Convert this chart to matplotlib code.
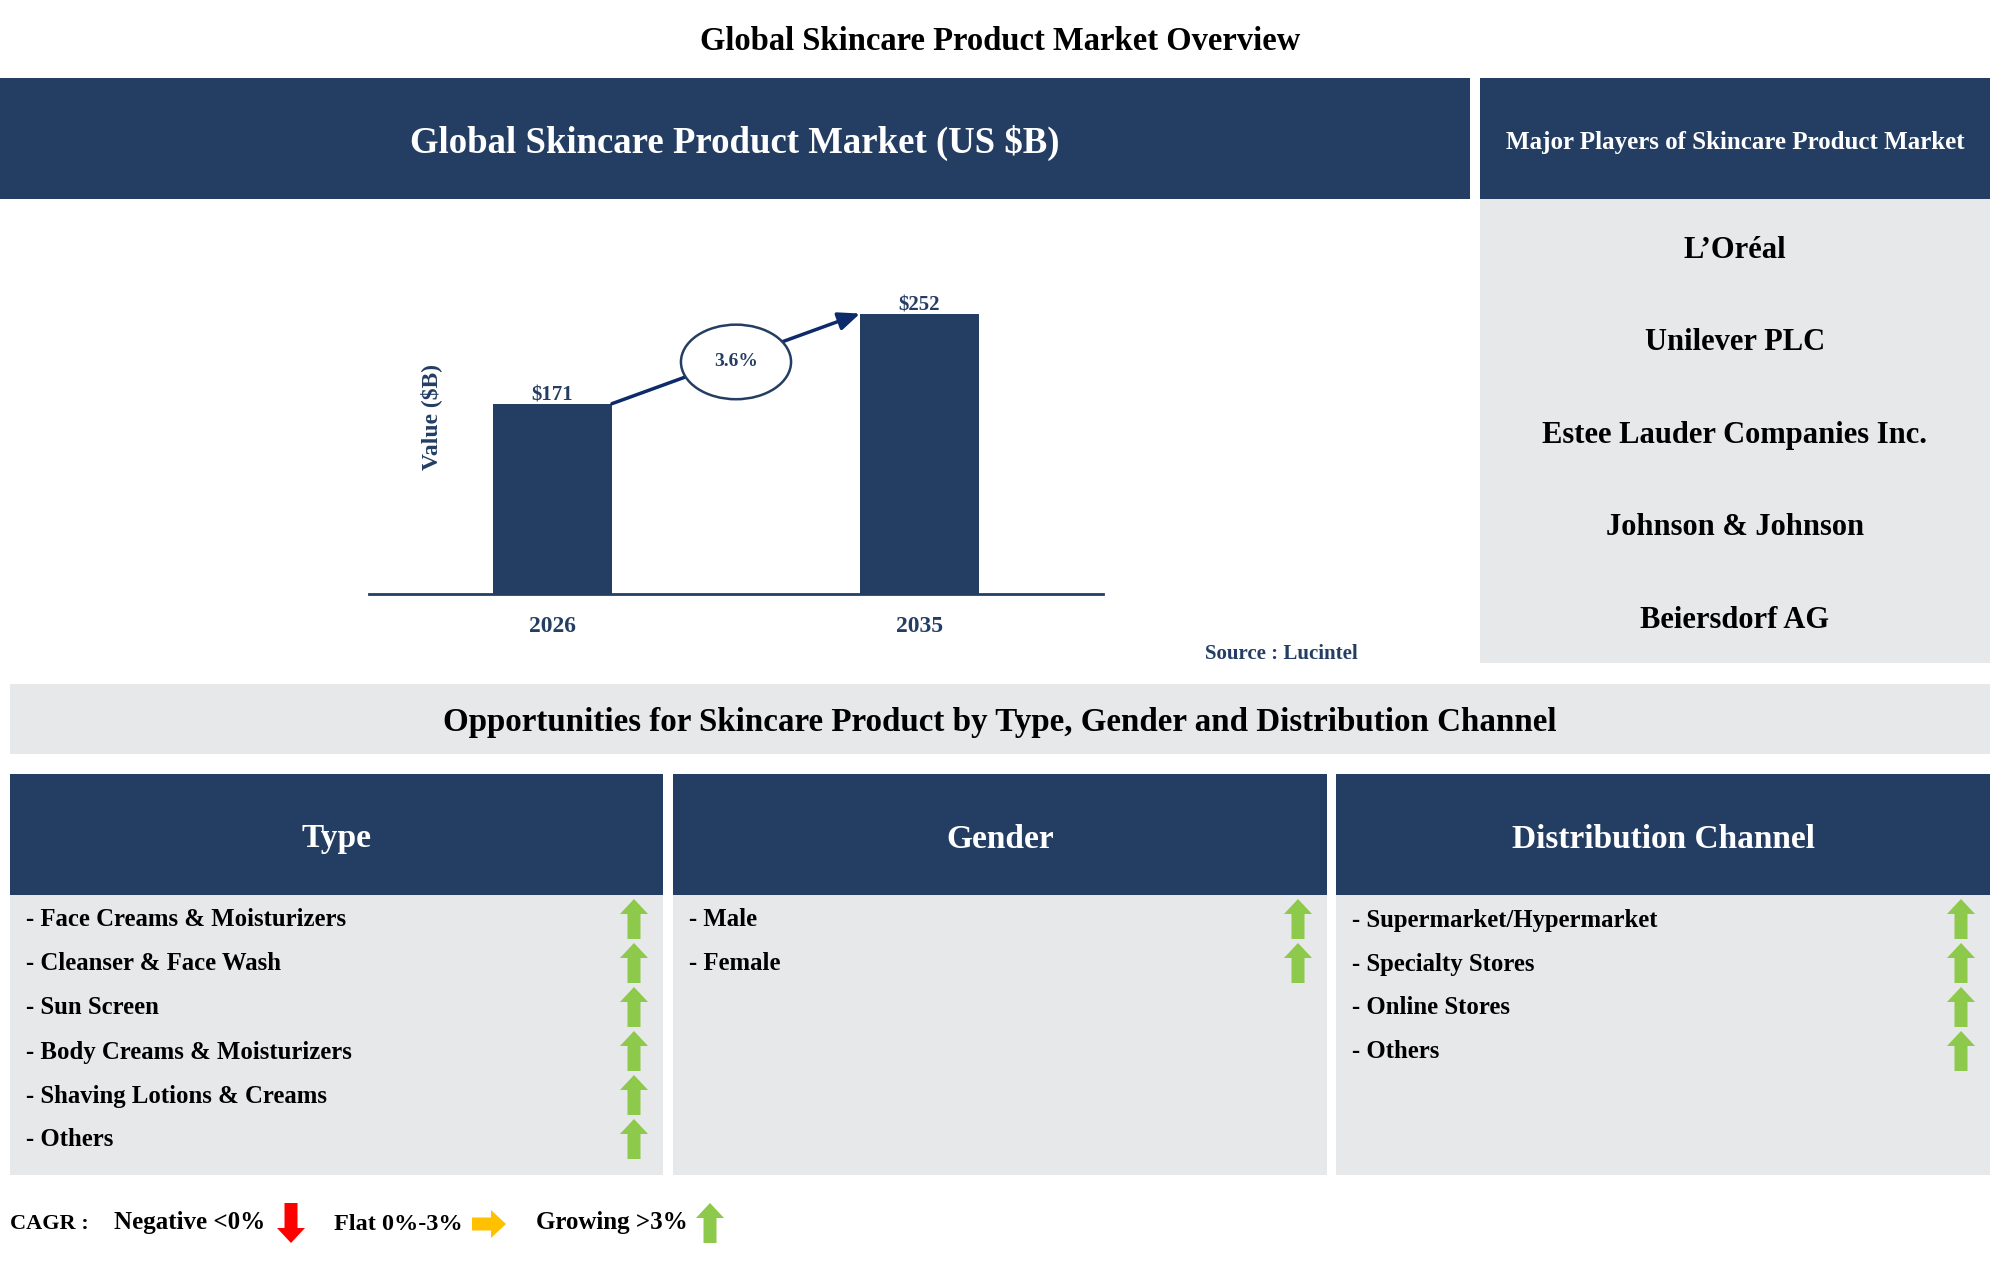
import numpy as np
import matplotlib.pyplot as plt
from matplotlib.patches import Rectangle, Ellipse, Polygon

# Données du graphique
years = ['2026', '2035']
values = [171, 252]
cagr = '3.6%'
players = ['L\u2019Or\u00e9al', 'Unilever PLC', 'Estee Lauder Companies Inc.',
           'Johnson & Johnson', 'Beiersdorf AG']
type_items = ['Face Creams & Moisturizers', 'Cleanser & Face Wash', 'Sun Screen',
              'Body Creams & Moisturizers', 'Shaving Lotions & Creams', 'Others']
gender_items = ['Male', 'Female']
channel_items = ['Supermarket/Hypermarket', 'Specialty Stores', 'Online Stores', 'Others']
segments = ['Type', 'Gender', 'Distribution Channel']

NAVY = '#243e63'
GRAY = '#e7e8ea'
GREEN = '#8dc94a'
RED = '#ff0000'
ORANGE = '#ffc000'
FONT = 'Liberation Serif'

W, H = 2000, 1274
fig = plt.figure(figsize=(W / 100, H / 100), dpi=100)

# Axe de fond en pixels (origine en haut à gauche)
bg = fig.add_axes([0, 0, 1, 1])
bg.set_xlim(0, W)
bg.set_ylim(H, 0)
bg.axis('off')


def txt(x, y, s, size, color='black', ha='center', **kw):
    bg.text(x, y, s, fontsize=size, color=color, ha=ha, va='center',
            family=FONT, fontweight='bold', **kw)


def box(x0, y0, x1, y1, color):
    bg.add_patch(Rectangle((x0, y0), x1 - x0, y1 - y0, color=color, lw=0))


def arrow_glyph(cx, cy, kind):
    # petite flèche : haut (vert), bas (rouge), droite (orange)
    hw, hh, sw, L = 14, 15, 6.5, 40
    if kind == 'up':
        pts = [(cx, cy - L / 2), (cx + hw, cy - L / 2 + hh), (cx + sw, cy - L / 2 + hh),
               (cx + sw, cy + L / 2), (cx - sw, cy + L / 2), (cx - sw, cy - L / 2 + hh),
               (cx - hw, cy - L / 2 + hh)]
        col = GREEN
    elif kind == 'down':
        pts = [(cx, cy + L / 2), (cx + hw, cy + L / 2 - hh), (cx + sw, cy + L / 2 - hh),
               (cx + sw, cy - L / 2), (cx - sw, cy - L / 2), (cx - sw, cy + L / 2 - hh),
               (cx - hw, cy + L / 2 - hh)]
        col = RED
    else:
        L = 34
        pts = [(cx + L / 2, cy), (cx + L / 2 - hh, cy - hw), (cx + L / 2 - hh, cy - sw),
               (cx - L / 2, cy - sw), (cx - L / 2, cy + sw), (cx + L / 2 - hh, cy + sw),
               (cx + L / 2 - hh, cy + hw)]
        col = ORANGE
    bg.add_patch(Polygon(pts, closed=True, color=col, lw=0))


# Titre
txt(1000, 41, 'Global Skincare Product Market Overview', 23.5)

# En-têtes du haut
box(0, 78, 1470, 199, NAVY)
txt(735, 143, 'Global Skincare Product Market (US $B)', 26.5, color='white')
box(1480, 78, 1990, 199, NAVY)
txt(1735, 143, 'Major Players of Skincare Product Market', 18, color='white')
box(1480, 199, 1990, 663, GRAY)
for i, p in enumerate(players):
    txt(1735, 250 + i * 92.5, p, 22)

# Graphique en barres
x0, x1, ybot, ytop = 369, 1103, 594, 200
ax = fig.add_axes([x0 / W, 1 - ybot / H, (x1 - x0) / W, (ybot - ytop) / H])
ax.patch.set_alpha(0)
bw = 0.324
xs = np.arange(len(years))
ax.bar(xs, values, width=bw, color=NAVY, zorder=2)
ax.set_xlim(-0.5, 1.5)
ax.set_ylim(0, 354)
for s in ['top', 'right', 'left']:
    ax.spines[s].set_visible(False)
ax.spines['bottom'].set_color(NAVY)
ax.spines['bottom'].set_linewidth(2)
ax.set_yticks([])
ax.set_xticks(xs)
ax.set_xticklabels(years, family=FONT, fontweight='bold', fontsize=17, color=NAVY)
ax.tick_params(axis='x', length=0, pad=16)
for xv, v in zip(xs, values):
    ax.text(xv, v - 2, f'${v}', ha='center', va='bottom', family=FONT,
            fontweight='bold', fontsize=15, color=NAVY)
ax.set_ylabel('Value ($B)', family=FONT, fontweight='bold', fontsize=17, color=NAVY)
ax.yaxis.set_label_coords(0.10, 0.45)

# Flèche TCAC entre les barres
p0 = (xs[0] + bw / 2, values[0])
p1 = (xs[1] - bw / 2, values[1])
ax.annotate('', xy=p1, xytext=p0,
            arrowprops=dict(arrowstyle='-|>,head_length=1.3,head_width=0.55',
                            color='#0d2a6b', lw=2.5, shrinkA=0, shrinkB=0))
mid = ((p0[0] + p1[0]) / 2, (p0[1] + p1[1]) / 2 - 3)
ax.add_patch(Ellipse(mid, 0.30, 67, facecolor='white', edgecolor=NAVY, lw=1.8, zorder=5))
ax.text(mid[0], mid[1], cagr, ha='center', va='center', family=FONT,
        fontweight='bold', fontsize=14, color=NAVY, zorder=6)

txt(1358, 654, 'Source : Lucintel', 15, color=NAVY, ha='right')

# Bandeau des opportunités
box(10, 684, 1990, 754, GRAY)
txt(1000, 722, 'Opportunities for Skincare Product by Type, Gender and Distribution Channel', 23.8)

cols = [(10, 663), (673, 1327), (1336, 1990)]
lists = [type_items, gender_items, channel_items]
for (cl, cr), title, items in zip(cols, segments, lists):
    box(cl, 774, cr, 895, NAVY)
    txt((cl + cr) / 2, 839, title, 24, color='white')
    box(cl, 895, cr, 1175, GRAY)
    for j, it in enumerate(items):
        y = 920 + j * 44
        txt(cl + 16, y, '- ' + it, 17.8, ha='left')
        arrow_glyph(cr - 29, y - 1, 'up')

# Légende TCAC
txt(10, 1224, 'CAGR :', 16, ha='left')
txt(114, 1222, 'Negative <0%', 18, ha='left')
arrow_glyph(291, 1223, 'down')
txt(334, 1224, 'Flat 0%-3%', 17.5, ha='left')
arrow_glyph(489, 1224, 'right')
txt(536, 1222, 'Growing >3%', 18, ha='left')
arrow_glyph(710, 1223, 'up')

fig.savefig('out.png', dpi=100)
